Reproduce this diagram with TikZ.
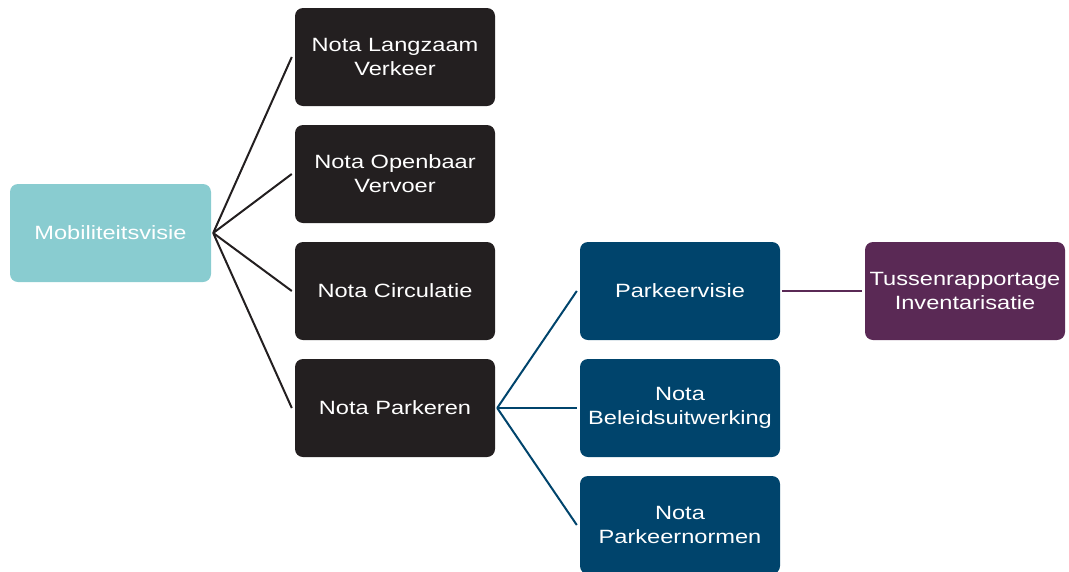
\documentclass[tikz,border=0pt]{standalone}
\usepackage{fontspec}
\setmainfont{Liberation Sans}[FakeStretch=1.23]
\definecolor{teal}{RGB}{137,204,208}
\definecolor{nblack}{RGB}{35,31,32}
\definecolor{nblue}{RGB}{0,68,108}
\definecolor{npurple}{RGB}{90,41,85}
\tikzset{
  box/.style={rectangle, rounded corners=8pt, minimum width=200pt, minimum height=98pt,
    text=white, align=center, inner sep=0pt, font=\fontsize{19.2}{24}\selectfont},
  blackbox/.style={box, fill=nblack},
  bluebox/.style={box, fill=nblue},
  link/.style={line width=2pt},
}
\begin{document}
\begin{tikzpicture}[x=1pt,y=-1pt]
\useasboundingbox (0,0) rectangle (1069,571);
\clip (0,0) rectangle (1069,571);
\node[box, fill=teal, minimum width=201pt] (mob) at (110.5,233) {Mobiliteitsvisie};
\node[blackbox] (lv) at (395,57) {Nota Langzaam\\Verkeer};
\node[blackbox] (ov) at (395,174) {Nota Openbaar\\Vervoer};
\node[blackbox] (ci) at (395,291) {Nota Circulatie};
\node[blackbox] (pa) at (395,408) {Nota Parkeren};
\node[bluebox] (pv) at (680,291) {Parkeervisie};
\node[bluebox] (bu) at (680,408) {Nota\\Beleidsuitwerking};
\node[bluebox] (pn) at (680,525) {Nota\\Parkeernormen};
\node[box, fill=npurple] (ti) at (965,291) {Tussenrapportage\\Inventarisatie};
\foreach \t in {lv,ov,ci,pa}
  \draw[link, nblack] ([xshift=2pt]mob.east) -- ([xshift=-3pt]\t.west);
\foreach \t in {pv,bu,pn}
  \draw[link, nblue] ([xshift=2pt]pa.east) -- ([xshift=-3pt]\t.west);
\draw[link, npurple, line width=2.5pt] ([xshift=2pt]pv.east) -- ([xshift=-3pt]ti.west);
\end{tikzpicture}
\end{document}
